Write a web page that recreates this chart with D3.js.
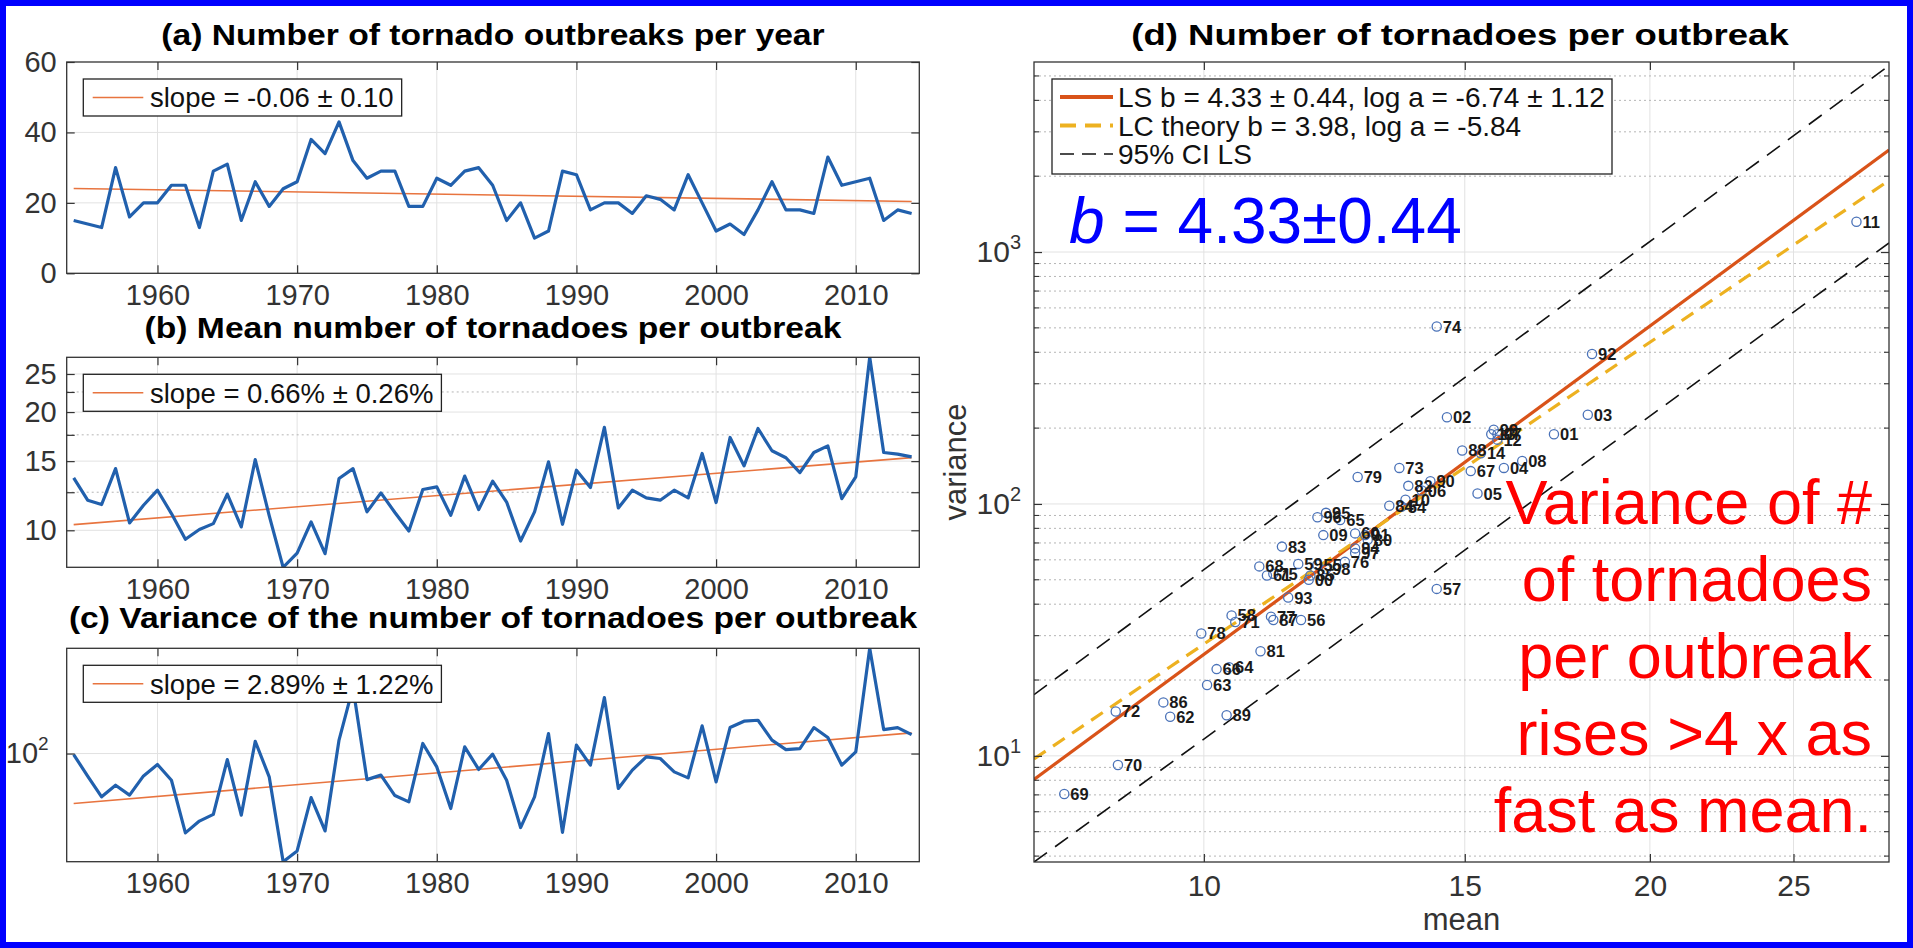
<!DOCTYPE html>
<html lang="en">
<head>
<meta charset="utf-8">
<title>Tornado outbreaks</title>
<script src="https://cdn.jsdelivr.net/npm/d3@7"></script>
<style>
  body { margin: 0; background: #fff; }
  svg { display: block; }
</style>
</head>
<body>
<script>
// years on the x axis of panels a-c, and point labels of panel d
var years = d3.range(1954, 2015);

// (a) number of outbreaks per year
var outbreaks = [15, 14, 13, 30, 16, 20, 20, 25, 25, 13,
                 29, 31, 15, 26, 19, 24, 26, 38, 34, 43,
                 32, 27, 29, 29, 19, 19, 27, 25, 29, 30,
                 25, 15, 20, 10, 12, 29, 28, 18, 20, 20,
                 17, 22, 21, 18, 28, 20, 12, 14, 11, 18,
                 26, 18, 18, 17, 33, 25, 26, 27, 15, 18, 17];

// (b) mean number of tornadoes per outbreak
var means = [13.6, 11.93, 11.63, 14.36, 10.44, 11.58, 12.65, 11.03, 9.49, 10.05,
             10.4, 12.36, 10.2, 15.14, 10.9, 8.05, 8.75, 10.5, 8.72, 13.55,
             14.36, 11.14, 12.45, 11.1, 9.96, 12.7, 12.9, 10.92, 13.74, 11.29,
             13.34, 11.8, 9.39, 11.14, 14.94, 10.36, 14.22, 12.85, 18.28, 11.4,
             12.65, 12.09, 11.93, 12.65, 12.09, 15.69, 11.77, 17.23, 14.59, 18.16,
             15.94, 15.3, 14.03, 15.78, 16.4, 12.04, 13.68, 27.57, 15.78, 15.63, 15.38];

// (c) variance of the number of tornadoes per outbreak
var variances = [97.6, 57.4, 34.6, 46.0, 36.1, 57.8, 76.4, 52.0, 14.3, 19.1,
                 22.5, 86.3, 22.1, 135, 56.5, 7.06, 9.2, 34, 15.0, 139,
                 506, 52.8, 58.9, 35.7, 30.6, 128, 72.1, 26.0, 118, 67.7,
                 98.4, 52.0, 16.3, 34.6, 163, 14.5, 123, 75.2, 394, 42.5,
                 66.6, 92.2, 88.5, 63.8, 55.1, 197, 50.0, 189, 221, 226,
                 139, 110, 113, 189, 148, 75.2, 104, 1319, 180, 189, 159];

// trend lines, end points
var trendA = [[1954, 24.1], [2014, 20.4]];
var trendB = [[1954, 10.34], [2014, 15.31]];
var trendC = [[1954, 29.4], [2014, 166]];

// (d) fits (variance = exp(log a) * mean^b) and 95% CI lines
var lsFit = {b: 4.33, loga: -6.74};
var lcFit = {b: 3.98, loga: -5.84};
var ciUpper = [[7.68, 17.5], [29, 5500]];
var ciLower = [[7.68, 3.79], [29, 1086]];

var decades = [1960, 1970, 1980, 1990, 2000, 2010];

var font = '"Liberation Sans", Arial, Helvetica, sans-serif';
var gridColor = "#e2e2e2";
var axisColor = "#333";
var blue = "#2160ad";
var orange = "#e8743f";

var w = 1913, h = 948;

var svg = d3.select("body").append("svg")
  .attr("width", w).attr("height", h)
  .attr("font-family", font);

svg.append("rect").attr("width", w).attr("height", h).attr("fill", "#fff");

var x = d3.scaleLinear().domain([1953.5, 2014.55]).range([66.7, 919.3]);

function styleAxis(g, fs) {
  g.attr("font-family", font).attr("font-size", fs);
  g.select(".domain").remove();
  g.selectAll(".tick line").attr("stroke", axisColor).attr("stroke-width", 1.2);
  g.selectAll(".tick text").attr("fill", axisColor);
}

function superLabels(g, base, sup) {
  g.selectAll(".tick text").each(function(d) {
    var t = d3.select(this);
    if (t.text() === "") return;
    t.text("");
    t.append("tspan").text("10");
    t.append("tspan").attr("dy", -13).attr("font-size", sup).text(Math.round(Math.log10(d)));
  });
}

// bold titles, a bit wider than the plain font
function title(cx, y, sx, str) {
  svg.append("text").attr("transform", "translate(" + cx + "," + y + ") scale(" + sx + ",1)")
    .attr("text-anchor", "middle").attr("font-size", 29).attr("font-weight", "bold")
    .attr("fill", "#000").text(str);
}

function timePanel(p) {
  var L = x.range()[0], R = x.range()[1], top = p.top, bot = p.bottom, y = p.y;
  var g = svg.append("g");

  g.append("clipPath").attr("id", "clip" + p.id)
    .append("rect").attr("x", L).attr("y", top).attr("width", R - L).attr("height", bot - top);

  // grid
  g.selectAll(".vg").data(decades).join("line").attr("class", "vg")
    .attr("x1", d => x(d)).attr("x2", d => x(d)).attr("y1", top).attr("y2", bot)
    .attr("stroke", gridColor).attr("stroke-width", 1);
  g.selectAll(".hg").data(p.grid).join("line").attr("class", "hg")
    .attr("x1", L).attr("x2", R).attr("y1", d => y(d)).attr("y2", d => y(d))
    .attr("stroke", gridColor).attr("stroke-width", 1);
  g.selectAll(".mg").data(p.minor).join("line").attr("class", "mg")
    .attr("x1", L).attr("x2", R).attr("y1", d => y(d)).attr("y2", d => y(d))
    .attr("stroke", "#b5b5b5").attr("stroke-width", 1).attr("stroke-dasharray", "2,3");

  var line = d3.line().x(d => x(d[0])).y(d => y(d[1]));

  g.append("path").datum(p.trend).attr("d", line)
    .attr("fill", "none").attr("stroke", orange).attr("stroke-width", 1.6)
    .attr("clip-path", "url(#clip" + p.id + ")");

  g.append("path").datum(years.map((yr, i) => [yr, p.values[i]])).attr("d", line)
    .attr("fill", "none").attr("stroke", blue).attr("stroke-width", 3.2)
    .attr("stroke-linejoin", "round")
    .attr("clip-path", "url(#clip" + p.id + ")");

  // box
  g.append("rect").attr("x", L).attr("y", top).attr("width", R - L).attr("height", bot - top)
    .attr("fill", "none").attr("stroke", axisColor).attr("stroke-width", 1.3);

  // axes, ticks inside
  var ticksAll = p.ticks.concat(p.minor);
  g.append("g").attr("transform", "translate(0," + bot + ")")
    .call(d3.axisBottom(x).tickValues(decades).tickSizeInner(-8).tickSizeOuter(0)
      .tickPadding(11).tickFormat(d3.format("d")))
    .call(styleAxis, 29);
  g.append("g").attr("transform", "translate(0," + top + ")")
    .call(d3.axisTop(x).tickValues(decades).tickSizeInner(-8).tickSizeOuter(0).tickFormat(""))
    .call(styleAxis, 29);
  var ga = g.append("g").attr("transform", "translate(" + L + ",0)")
    .call(d3.axisLeft(y).tickValues(ticksAll).tickSizeInner(-8).tickSizeOuter(0)
      .tickPadding(p.pad).tickFormat(d => p.ticks.indexOf(d) >= 0 ? p.fmt(d) : ""))
    .call(styleAxis, 29);
  if (p.sup) ga.call(superLabels, 29, 19);
  g.append("g").attr("transform", "translate(" + R + ",0)")
    .call(d3.axisRight(y).tickValues(ticksAll).tickSizeInner(-8).tickSizeOuter(0).tickFormat(""))
    .call(styleAxis, 29);

  // legend
  var ly = top + 17, lh = 37, lx = 83.3;
  var lg = g.append("g");
  var box = lg.append("rect").attr("x", lx).attr("y", ly).attr("height", lh)
    .attr("fill", "#fff").attr("stroke", "#222").attr("stroke-width", 1.3);
  lg.append("line").attr("x1", 92.7).attr("x2", 143.3).attr("y1", ly + lh / 2).attr("y2", ly + lh / 2)
    .attr("stroke", orange).attr("stroke-width", 1.6);
  var lt = lg.append("text").attr("x", 150).attr("y", ly + lh / 2 + 9.8)
    .attr("font-size", 27.5).attr("fill", "#111").text(p.legend);
  box.attr("width", 150 - lx + lt.node().getComputedTextLength() + 8);

  title((L + R) / 2, p.titleY, 1.16, p.title);
}

timePanel({
  id: "a", top: 62, bottom: 273.3,
  y: d3.scaleLinear().domain([0, 60]).range([273.3, 62]),
  values: outbreaks, trend: trendA,
  ticks: [0, 20, 40, 60], grid: [20, 40], minor: [],
  fmt: d3.format("d"), pad: 10,
  legend: "slope = -0.06 \u00b1 0.10",
  title: "(a) Number of tornado outbreaks per year", titleY: 45
});

timePanel({
  id: "b", top: 357.3, bottom: 567.3,
  y: d3.scaleLog().domain(d3.extent(means)).range([567.3, 357.3]),
  values: means, trend: trendB,
  ticks: [10, 15, 20, 25], grid: [10, 15, 20, 25], minor: [12.5, 17.5, 22.5],
  fmt: d3.format("d"), pad: 10,
  legend: "slope = 0.66% \u00b1 0.26%",
  title: "(b) Mean number of tornadoes per outbreak", titleY: 338
});

timePanel({
  id: "c", top: 648.3, bottom: 861.7,
  y: d3.scaleLog().domain(d3.extent(variances)).range([861.7, 648.3]),
  values: variances, trend: trendC,
  ticks: [100], grid: [100], minor: [],
  fmt: d => "x", pad: 18, sup: true,
  legend: "slope = 2.89% \u00b1 1.22%",
  title: "(c) Variance of the number of tornadoes per outbreak", titleY: 628
});

// ---------- panel (d) ----------
var xd = d3.scaleLog().domain([7.68, 29]).range([1034, 1889]);
var yd = d3.scaleLog().domain([3.79, 5680]).range([862, 62]);
var dL = 1034, dR = 1889, dT = 62, dB = 862;
var xMajor = [10, 15, 20, 25];
var yMajor = [10, 100, 1000];
var yMinor = [1, 10, 100, 1000].flatMap(dec => d3.range(2, 10).map(k => k * dec))
  .filter(v => v > 3.79 && v < 5680);

var gd = svg.append("g");
gd.append("clipPath").attr("id", "clipd")
  .append("rect").attr("x", dL).attr("y", dT).attr("width", dR - dL).attr("height", dB - dT);

gd.selectAll(".vg").data(xMajor).join("line").attr("class", "vg")
  .attr("x1", d => xd(d)).attr("x2", d => xd(d)).attr("y1", dT).attr("y2", dB)
  .attr("stroke", gridColor);
gd.selectAll(".mg").data(yMinor).join("line").attr("class", "mg")
  .attr("x1", dL).attr("x2", dR).attr("y1", d => yd(d)).attr("y2", d => yd(d))
  .attr("stroke", "#b5b5b5").attr("stroke-dasharray", "2,3");
gd.selectAll(".hg").data(yMajor).join("line").attr("class", "hg")
  .attr("x1", dL).attr("x2", dR).attr("y1", d => yd(d)).attr("y2", d => yd(d))
  .attr("stroke", gridColor);

var dline = d3.line().x(d => xd(d[0])).y(d => yd(d[1]));
function fitPts(f) {
  return xd.domain().map(m => [m, Math.exp(f.loga) * Math.pow(m, f.b)]);
}

var lines = gd.append("g").attr("clip-path", "url(#clipd)");
[ciUpper, ciLower].forEach(function(c) {
  lines.append("path").datum(c).attr("d", dline).attr("fill", "none")
    .attr("stroke", "#111").attr("stroke-width", 1.6).attr("stroke-dasharray", "16,10");
});
lines.append("path").datum(fitPts(lsFit)).attr("d", dline).attr("fill", "none")
  .attr("stroke", "#d95319").attr("stroke-width", 3.2);
lines.append("path").datum(fitPts(lcFit)).attr("d", dline).attr("fill", "none")
  .attr("stroke", "#edb120").attr("stroke-width", 3.2).attr("stroke-dasharray", "14,9");

var pts = years.map((yr, i) => ({m: means[i], v: variances[i], lab: String(yr).slice(2)}));
gd.selectAll(".pt").data(pts).join("circle").attr("class", "pt")
  .attr("cx", d => xd(d.m)).attr("cy", d => yd(d.v)).attr("r", 4.6)
  .attr("fill", "none").attr("stroke", "#4a72b8").attr("stroke-width", 1.3);
gd.selectAll(".pl").data(pts).join("text").attr("class", "pl")
  .attr("x", d => xd(d.m) + 6).attr("y", d => yd(d.v) + 6)
  .attr("font-size", 16.5).attr("font-weight", "bold").attr("fill", "#1a1a1a")
  .text(d => d.lab);

gd.append("rect").attr("x", dL).attr("y", dT).attr("width", dR - dL).attr("height", dB - dT)
  .attr("fill", "none").attr("stroke", axisColor).attr("stroke-width", 1.3);

gd.append("g").attr("transform", "translate(0," + dB + ")")
  .call(d3.axisBottom(xd).tickValues(xMajor).tickSizeInner(-8).tickSizeOuter(0)
    .tickPadding(13).tickFormat(d3.format("d")))
  .call(styleAxis, 30);
gd.append("g").attr("transform", "translate(0," + dT + ")")
  .call(d3.axisTop(xd).tickValues(xMajor).tickSizeInner(-8).tickSizeOuter(0).tickFormat(""))
  .call(styleAxis, 30);
gd.append("g").attr("transform", "translate(" + dL + ",0)")
  .call(d3.axisLeft(yd).tickValues(yMajor).tickSizeInner(-8).tickSizeOuter(0)
    .tickPadding(13).tickFormat(d => "x"))
  .call(styleAxis, 30)
  .call(superLabels, 30, 20);
gd.append("g").attr("transform", "translate(" + dR + ",0)")
  .call(d3.axisRight(yd).tickValues(yMajor).tickSizeInner(-8).tickSizeOuter(0).tickFormat(""))
  .call(styleAxis, 30);
[[dL, -5], [dR, 5]].forEach(function(s) {
  gd.selectAll(null).data(yMinor).join("line")
    .attr("x1", s[0]).attr("x2", s[0] - s[1]).attr("y1", d => yd(d)).attr("y2", d => yd(d))
    .attr("stroke", axisColor).attr("stroke-width", 1.1);
});

// axis labels and title
gd.append("text").attr("x", (dL + dR) / 2).attr("y", 930).attr("text-anchor", "middle")
  .attr("font-size", 31).attr("fill", axisColor).text("mean");
gd.append("text").attr("transform", "translate(966,462) rotate(-90)").attr("text-anchor", "middle")
  .attr("font-size", 31).attr("fill", axisColor).text("variance");
title(1460, 45, 1.26, "(d) Number of tornadoes per outbreak");

// legend (d)
var legD = [
  {text: "LS b = 4.33 \u00b1 0.44, log a = -6.74 \u00b1 1.12", color: "#d95319", width: 4, dash: null},
  {text: "LC theory b = 3.98, log a = -5.84", color: "#edb120", width: 4, dash: "16,9"},
  {text: "95% CI LS", color: "#111", width: 1.6, dash: "14,8"}
];
var lgd = gd.append("g");
lgd.append("rect").attr("x", 1052).attr("y", 79).attr("width", 560).attr("height", 95)
  .attr("fill", "#fff").attr("stroke", "#222").attr("stroke-width", 1.3);
legD.forEach(function(e, i) {
  var cy = 97 + i * 28.5;
  lgd.append("line").attr("x1", 1060).attr("x2", 1113).attr("y1", cy).attr("y2", cy)
    .attr("stroke", e.color).attr("stroke-width", e.width).attr("stroke-dasharray", e.dash);
  lgd.append("text").attr("x", 1118).attr("y", cy + 10).attr("font-size", 28).attr("fill", "#111")
    .text(e.text);
});

// annotations
var bt = gd.append("text").attr("x", 1069).attr("y", 243).attr("font-size", 64).attr("fill", "#0000ff");
bt.append("tspan").attr("font-style", "italic").text("b");
bt.append("tspan").text(" = 4.33\u00b10.44");

var note = ["Variance of #", "of tornadoes", "per outbreak", "rises >4 x as", "fast as mean."];
gd.selectAll(".note").data(note).join("text").attr("class", "note")
  .attr("x", 1872).attr("y", (d, i) => 524 + i * 77).attr("text-anchor", "end")
  .attr("font-size", 63).attr("fill", "#ff0000").text(d => d);

// blue frame
svg.append("rect").attr("x", 3).attr("y", 3).attr("width", w - 6).attr("height", h - 6)
  .attr("fill", "none").attr("stroke", "#0000ff").attr("stroke-width", 6);
</script>
</body>
</html>
